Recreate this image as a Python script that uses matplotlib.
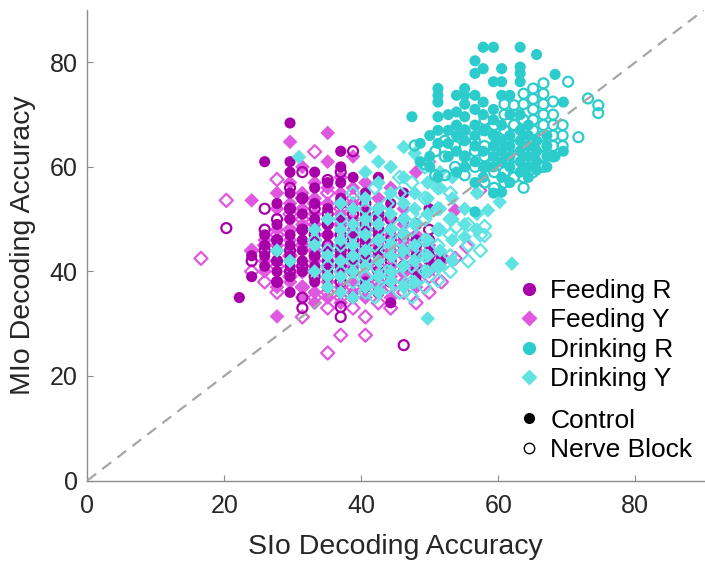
import matplotlib.pyplot as plt
from matplotlib.lines import Line2D

plt.rcParams['font.family'] = ['Liberation Sans', 'DejaVu Sans']

# columns: (SIo accuracy, [MIo accuracies])
feed_r_ctrl = [
    (22.2, [35]), (24.0, [39, 43]), (25.9, [41, 43, 45, 47, 61]),
    (27.7, [38, 40, 42, 44, 46, 49, 53]),
    (29.6, [36, 39, 41, 43, 45, 47, 50, 52, 55, 59, 61, 68.4]),
    (31.4, [40, 42, 44, 46, 48, 51, 54]),
    (33.2, [38, 41, 43, 46, 48, 50, 53, 56, 59]),
    (35.1, [37, 40, 42, 44, 47, 49, 52, 57]),
    (37.0, [36, 39, 41, 43, 45, 48, 50, 54, 57, 60, 63]),
    (38.8, [35, 40, 42, 44, 47, 49, 52, 58]),
    (40.6, [38, 41, 43, 46, 48, 51, 55]),
    (42.5, [39, 42, 44, 47, 50, 52, 58]),
    (44.3, [34, 40, 43, 45, 48, 53]),
    (46.2, [41, 44, 47, 50, 55]), (48.0, [39, 43, 46, 49]),
    (49.9, [42, 44, 52]), (51.7, [42.5]),
]
feed_r_nb = [
    (20.3, [48.3]), (24.0, [42]), (25.9, [44, 48, 52]),
    (27.7, [38, 42, 46, 50]), (29.6, [40, 44, 52, 56]),
    (31.4, [33, 35, 41, 48, 54, 59]), (33.2, [39, 43, 47, 52]),
    (35.1, [39, 42, 45, 49, 51, 57.5]),
    (37.0, [31.3, 33.2, 38, 41, 44, 47, 53, 59]),
    (38.8, [40, 43, 46, 51, 63]), (40.6, [37, 42, 45, 49, 53]),
    (42.5, [36, 40, 44, 48, 51]), (44.3, [38, 42, 46, 50]),
    (46.2, [25.9, 41, 44, 47]), (48.0, [40, 45, 49]), (49.9, [43, 46, 48]),
]
feed_y_ctrl = [
    (24.0, [44, 53.6]), (25.9, [40, 42, 46]),
    (27.7, [31.4, 37, 45, 48, 52, 55]),
    (29.6, [38, 40, 42, 44, 46, 48, 50, 53, 57, 64.8]),
    (31.4, [35, 37, 41, 45, 49, 52, 55, 60]),
    (33.2, [34, 36, 40, 42, 44, 46, 49, 51, 54, 57]),
    (35.1, [35, 38, 41, 43, 45, 47, 50, 53, 56, 61, 66.5]),
    (37.0, [34, 37, 40, 42, 44, 46, 49, 51, 55, 58]),
    (38.8, [36, 38, 41, 43, 45, 48, 50, 53, 56, 62]),
    (40.6, [35, 39, 42, 44, 47, 50, 52, 57]),
    (42.5, [37, 40, 43, 45, 48, 51, 54]),
    (44.3, [35, 39, 41, 44, 47, 50, 56]),
    (46.2, [38, 40, 43, 46, 49, 52]), (48.0, [37, 41, 44, 47, 59]),
    (49.9, [40, 45, 61]), (51.7, [43]), (53.7, [51.7]),
]
feed_y_nb = [
    (16.6, [42.5]), (20.3, [53.6]), (24.0, [40, 44]), (25.9, [38, 45]),
    (27.7, [36, 41, 47, 57.6]), (29.6, [39, 43, 48, 51]),
    (31.4, [31.3, 37, 40, 45, 50, 54]), (33.2, [35, 40, 44, 53, 62.9]),
    (35.1, [24.4, 33, 36, 41, 47, 55]), (37.0, [27.8, 35, 38, 43, 49, 52]),
    (38.8, [33, 37, 42, 46, 54]), (40.6, [27.8, 31.3, 36, 39, 44, 48]),
    (42.5, [34, 38, 41, 46]), (44.3, [33, 37, 43, 50]),
    (46.2, [36, 39.8, 45]), (48.0, [34, 38, 41]), (49.9, [36, 39]),
    (51.7, [38, 42]), (53.7, [42.5]), (55.4, [44.7]), (57.3, [55.5]),
]
drink_r_ctrl = [
    (47.4, [69.6]), (48.6, [61, 64.5]), (50.0, [60, 62, 66]),
    (51.2, [58, 64.5, 67, 69.6, 72.4, 73.7, 75]),
    (52.7, [62, 64.5, 67, 70]), (53.9, [59, 63, 66, 68, 70.5, 73.7]),
    (55.1, [60, 62, 65, 67, 69.6, 72, 73.7, 75]),
    (56.6, [51.4, 57, 61, 64, 66, 68, 71, 73.7, 77.9, 80.3]),
    (57.8, [58, 60, 63, 67, 70, 72.4, 78.8, 82.9]),
    (59.3, [55, 60, 62, 64, 66, 69, 71, 76.3, 82.9]),
    (60.5, [55.2, 58, 61, 63, 65, 68, 73.7, 76.3, 78.8]),
    (61.7, [57, 60, 62, 64, 66, 70, 73.7]),
    (63.2, [59, 61, 63, 65, 67, 70, 76.3, 77.9, 79.1, 82.9]),
    (64.4, [58, 60, 62, 64, 66, 68]), (65.6, [59.4, 61, 63, 65, 81.5]),
    (67.1, [60, 62, 64, 66]), (68.3, [62, 77.7]), (69.5, [63, 72.4]),
]
drink_r_nb = [
    (47.8, [64.1]), (49.3, [60.5]), (50.8, [58.4, 63]),
    (52.2, [58.4, 62, 65]), (53.7, [60, 64, 67]), (55.1, [58.4, 62, 67]),
    (56.6, [60, 63, 65]), (58.0, [57, 60, 62, 64, 67, 69]),
    (59.4, [56, 59, 61, 63, 66, 68]),
    (60.9, [57, 59, 61, 63, 65, 67, 70, 72]),
    (62.3, [58, 60, 62, 64, 66, 68, 70, 71.8]),
    (63.7, [56, 58, 61, 63, 65, 67, 69, 72, 74]),
    (65.1, [59, 61, 63, 65, 67, 69, 71, 73, 75]),
    (66.6, [60, 62, 64, 66, 68, 70, 72, 74, 76]),
    (68.0, [62, 64, 66, 68, 70, 72.5]), (69.4, [64, 66, 68]),
    (70.2, [76.3]), (71.7, [65.7]), (73.1, [73.1]), (74.6, [70.3, 71.8]),
]
drink_y_ctrl = [
    (27.7, [44]), (29.6, [42]), (30.9, [61.9]), (33.2, [40, 45, 48]),
    (35.1, [37, 39, 43, 50]), (37.0, [36, 39, 42, 46, 48, 53]),
    (38.8, [35, 40, 43, 45, 49, 52]),
    (40.6, [37, 41, 44, 47, 50, 54, 59]), (41.3, [63.8]),
    (42.5, [36, 39, 42, 46, 49, 52, 57, 61]),
    (44.3, [38, 40, 43, 45, 48, 51, 55, 60]),
    (46.2, [37, 41, 44, 47, 50, 53, 58, 63.8]),
    (47.8, [38, 42, 45, 49, 52, 55, 62.6]),
    (49.7, [31, 40, 43, 46, 51, 54, 57, 61]),
    (51.5, [41, 44, 48, 52, 56, 59]), (53.3, [42, 46, 50, 54, 58]),
    (55.1, [46.6, 49, 52]), (56.9, [48, 51, 55]), (58.5, [51.7]),
    (60.2, [53.3]), (62.0, [41.5]),
]
drink_y_nb = [
    (33.2, [46]), (35.1, [41, 44]), (37.0, [40, 45, 50]),
    (38.8, [38, 42, 47, 55]), (40.6, [36, 39, 43, 48, 52]),
    (42.0, [35.1, 38, 41, 45, 50, 56]), (43.8, [37, 40, 44, 47, 53]),
    (45.6, [36, 39, 42, 46, 49, 55, 58]),
    (47.4, [35.1, 38, 41, 44, 48, 51, 57]),
    (49.3, [37, 40, 43, 46, 50, 54, 60]),
    (51.2, [38.3, 41, 45, 48, 52, 56]), (53.0, [40, 43, 47, 50, 55]),
    (53.9, [48.5]), (55.6, [42, 45, 49]), (57.4, [44, 47]),
    (58.0, [46.9, 48.6]),
]

series_names = ['Feeding R', 'Feeding Y', 'Drinking R', 'Drinking Y']
c_fr, c_fy, c_dr, c_dy = '#A800A8', '#E057E0', '#2DCCCC', '#62E3E3'


def flat(cols):
    xs, ys = [], []
    for x, yl in cols:
        xs += [x] * len(yl)
        ys += yl
    return xs, ys


fig = plt.figure(figsize=(7.05, 5.62), dpi=100)
ax = fig.add_axes([0.1238, 0.145, 0.8744, 0.837])

ms_c, ms_d, lw_o = 64, 56, 1.6
layers = [
    (feed_y_ctrl, 'D', c_fy, True), (feed_y_nb, 'D', c_fy, False),
    (feed_r_ctrl, 'o', c_fr, True), (feed_r_nb, 'o', c_fr, False),
    (drink_y_ctrl, 'D', c_dy, True), (drink_y_nb, 'D', c_dy, False),
    (drink_r_nb, 'o', c_dr, False), (drink_r_ctrl, 'o', c_dr, True),
]
for cols, mk, col, filled in layers:
    xs, ys = flat(cols)
    s = ms_c if mk == 'o' else ms_d
    if filled:
        ax.scatter(xs, ys, s=s, marker=mk, c=col, edgecolors='none')
    else:
        ax.scatter(xs, ys, s=s * 0.8, marker=mk, facecolors='none',
                   edgecolors=col, linewidths=lw_o)

ax.plot([0, 90], [0, 90], color='#A6A6A6', lw=1.6, ls=(0, (5, 3.5)), zorder=5)

ax.set_xlim(0, 90)
ax.set_ylim(0, 90)
ax.set_xticks([0, 20, 40, 60, 80])
ax.set_yticks([0, 20, 40, 60, 80])
for sp in ['top', 'right']:
    ax.spines[sp].set_visible(False)
for sp in ['left', 'bottom']:
    ax.spines[sp].set_color('#8C8C8C')
    ax.spines[sp].set_linewidth(1.0)
ax.tick_params(direction='in', length=4, color='#8C8C8C', labelsize=18,
               labelcolor='#262626', pad=7)
ax.tick_params(axis='x', pad=10)
ax.set_xlabel('SIo Decoding Accuracy', fontsize=20.5, color='#262626', labelpad=11)
ax.set_ylabel('MIo Decoding Accuracy', fontsize=20.5, color='#262626', labelpad=10)

h1 = [
    Line2D([], [], ls='none', marker='o', ms=9.5, mfc=c_fr, mec='none'),
    Line2D([], [], ls='none', marker='D', ms=8.5, mfc=c_fy, mec='none'),
    Line2D([], [], ls='none', marker='o', ms=9.5, mfc=c_dr, mec='none'),
    Line2D([], [], ls='none', marker='D', ms=8.5, mfc=c_dy, mec='none'),
]
leg_kw = dict(loc='upper left', frameon=False, fontsize=19, handlelength=0.8,
              handletextpad=0.4, labelspacing=0.2, borderpad=0, borderaxespad=0)
leg1 = ax.legend(h1, series_names, bbox_to_anchor=(0.70, 0.428), **leg_kw)
ax.add_artist(leg1)
h2 = [
    Line2D([], [], ls='none', marker='o', ms=8, mfc='black', mec='none'),
    Line2D([], [], ls='none', marker='o', ms=7.5, mfc='none', mec='black', mew=1.0),
]
ax.legend(h2, ['Control', 'Nerve Block'], bbox_to_anchor=(0.70, 0.153), **leg_kw)

fig.savefig('out.png', dpi=100)
